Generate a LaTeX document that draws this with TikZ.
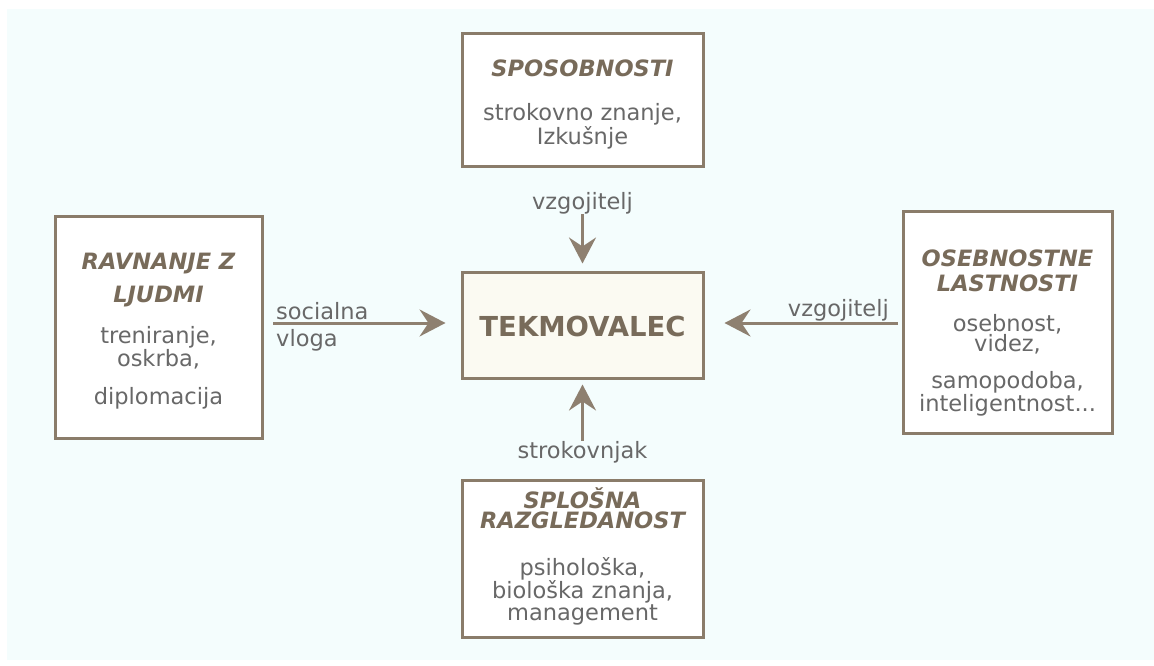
\documentclass[tikz,border=0pt]{standalone}
\usepackage{fontspec}
\setmainfont{DejaVu Sans}
\usetikzlibrary{arrows.meta}
\definecolor{bgc}{HTML}{F4FDFD}
\definecolor{boxc}{HTML}{8A7C6A}
\definecolor{txtc}{HTML}{686868}
\definecolor{ttlc}{HTML}{786B5A}
\definecolor{arrc}{HTML}{8E8070}
\definecolor{cfill}{HTML}{FBFAF2}
\tikzset{
  boxnode/.style={draw=boxc, line width=3pt, fill=white, inner sep=0pt},
  ttl/.style={text=ttlc, align=center, inner sep=0pt, font=\fontsize{22.5}{#1}\selectfont\bfseries\itshape},
  bodytxt/.style={text=txtc, align=center, inner sep=0pt, font=\fontsize{22.5}{#1}\selectfont},
  lbl/.style={text=txtc, inner sep=0pt, font=\fontsize{22.5}{24}\selectfont},
  arr/.style={draw=arrc, line width=3pt, -{Stealth[length=26pt,width=27pt,inset=9pt]}},
}
\begin{document}
\begin{tikzpicture}[x=1pt,y=-1pt]
\useasboundingbox (0,0) rectangle (1154,666);
\fill[white] (0,0) rectangle (1154,666);
\fill[bgc] (7,9) rectangle (1154,660);

% boxes
\node[boxnode, minimum width=241pt, minimum height=133pt] (top) at (582.5,100.5) {};
\node[boxnode, minimum width=241pt, minimum height=106pt, fill=cfill] (cen) at (582.5,325) {};
\node[boxnode, minimum width=241pt, minimum height=157pt] (bot) at (582.5,558.5) {};
\node[boxnode, minimum width=207pt, minimum height=222pt] (lft) at (158.5,327) {};
\node[boxnode, minimum width=209pt, minimum height=222pt] (rgt) at (1007.5,322) {};

% texts
\node[ttl=22] (topT) at (582.5,68) {SPOSOBNOSTI};
\node[bodytxt=22] (topB) at (582.5,126) {strokovno znanje,\\Izkušnje};

\node[text=ttlc, inner sep=0pt, font=\fontsize{27.5}{30}\selectfont\bfseries] (cenT) at (582.5,326) {TEKMOVALEC};

\node[ttl=33] (lftT) at (158.5,280) {RAVNANJE Z\\LJUDMI};
\node[bodytxt=23] (lftB) at (158.5,368) {treniranje,\\oskrba,\\[15pt]diplomacija};

\node[ttl=25] (rgtT) at (1007.5,271) {OSEBNOSTNE\\LASTNOSTI};
\node[bodytxt=20.5] (rgtB) at (1007.5,365) {osebnost,\\videz,\\[16pt]samopodoba,\\inteligentnost...};

\node[ttl=20.5] (botT) at (582.5,508) {SPLOŠNA\\RAZGLEDANOST};
\node[bodytxt=19.5] (botB) at (582.5,591) {psihološka,\\biološka znanja,\\management};

% labels
\node[lbl] (lTop) at (582.5,203) {vzgojitelj};
\node[lbl] (lBot) at (582.5,452) {strokovnjak};
\node[lbl, anchor=west] (lSoc) at (276,311) {socialna};
\node[lbl, anchor=west] (lVlo) at (276,340) {vloga};
\node[lbl, anchor=east] (lRgt) at (889,310) {vzgojitelj};

% arrows
\coordinate (la) at (273,323);
\coordinate (ra) at (898,323);
\draw[arr, shorten >=7pt] (lTop.south) -- (cen.north);
\draw[arr, shorten >=5pt] (lBot.north) -- (cen.south);
\draw[arr, shorten >=15pt] (la) -- (cen.west |- la);
\draw[arr, shorten >=20pt] (ra) -- (cen.east |- ra);
\end{tikzpicture}
\end{document}
